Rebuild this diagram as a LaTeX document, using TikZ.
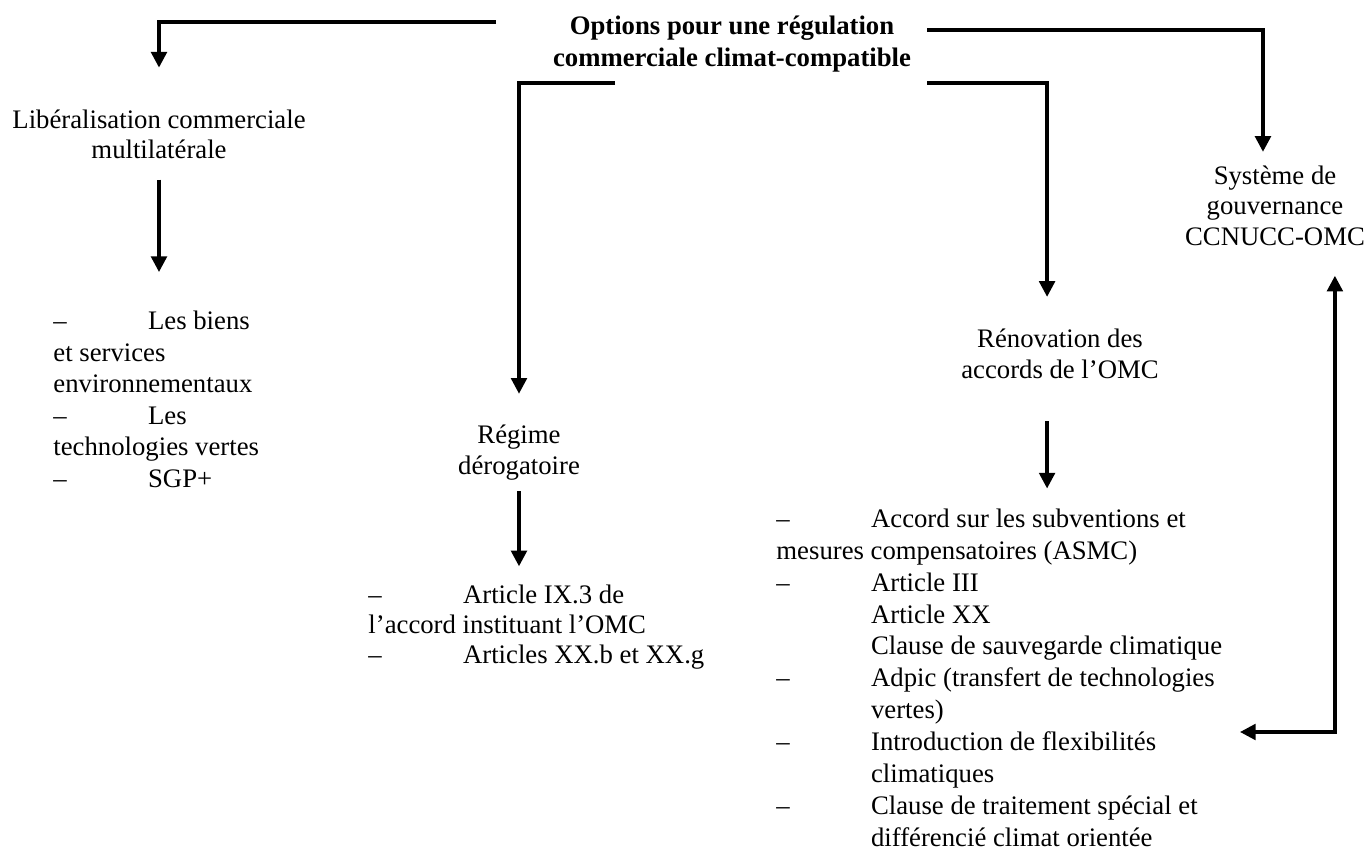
\documentclass[tikz,border=0pt]{standalone}
\usepackage{fontspec}
\setmainfont{Liberation Serif}
\usetikzlibrary{arrows.meta}
\tikzset{
  txt/.style={inner sep=0pt, align=center, anchor=base, font=\fontsize{12}{13.5}\selectfont},
  lst/.style={inner sep=0pt, align=left, anchor=base west, font=\fontsize{12}{14.1}\selectfont},
  conn/.style={line width=1.5pt, ->},
}
\newcommand{\tb}{\makebox[42.5pt][l]{–}}
\newcommand{\ind}{\hspace*{42.5pt}}
\begin{document}
\begin{tikzpicture}[>={Triangle[width=7pt,length=7pt]}, x=0.449pt, y=-0.449pt]
\useasboundingbox (0,0) rectangle (1367,849);
% les nodes sont places sur la ligne de base de leur derniere ligne
\node[txt, font=\bfseries\fontsize{12}{14.4}\selectfont] (opts) at (732,67) {Options pour une régulation\\commerciale climat-compatible};
\node[txt] (lib) at (159,159) {Libéralisation commerciale\\multilatérale};
\node[txt] (sys) at (1275,245) {Système de\\gouvernance\\CCNUCC-OMC};
\node[txt] (reg) at (519,474) {Régime\\dérogatoire};
\node[txt] (ren) at (1060,378) {Rénovation des\\accords de l’OMC};
\node[lst] (libl) at (53,487) {\tb Les biens\\et services\\environnementaux\\\tb Les\\technologies vertes\\\tb SGP+};
\node[lst, font=\fontsize{12}{13.45}\selectfont] (regl) at (368,663) {\tb Article IX.3 de\\l’accord instituant l’OMC\\\tb Articles XX.b et XX.g};
\node[lst, font=\fontsize{12}{14.3}\selectfont] (renl) at (776,846) {\tb Accord sur les subventions et\\mesures compensatoires (ASMC)\\\tb Article III\\\ind Article XX\\\ind Clause de sauvegarde climatique\\\tb Adpic (transfert de technologies\\\ind vertes)\\\tb Introduction de flexibilités\\\ind climatiques\\\tb Clause de traitement spécial et\\\ind différencié climat orientée};
\coordinate (ol) at (496,22);
\coordinate (or) at (927,30);
\coordinate (ll) at (615,83);
\coordinate (lr) at (927,83);
\coordinate (clim) at (1240,732);
% vers les options
\draw[conn] (ol) -| ([yshift=19pt]lib.north);
\draw[conn] (or) -| ([xshift=-5.4pt,yshift=6.3pt]sys.north);
\draw[conn] (ll) -| ([yshift=14pt]reg.north);
\draw[conn] (lr) -| ([xshift=-5.8pt,yshift=14.4pt]ren.north);
% vers les mesures
\draw[conn] ([yshift=-9pt]lib.south) -- ([yshift=17.5pt]lib.south |- libl.north);
\draw[conn] ([yshift=-5pt]reg.south) -- ([yshift=8pt]reg.south |- regl.north);
\draw[conn] ([xshift=-5.8pt,yshift=-19pt]ren.south) -- ([xshift=-5.8pt,yshift=9pt]ren.south |- renl.north);
\draw[conn, <->] ([xshift=26.9pt,yshift=-13.5pt]sys.south) |- (clim);
\end{tikzpicture}
\end{document}
